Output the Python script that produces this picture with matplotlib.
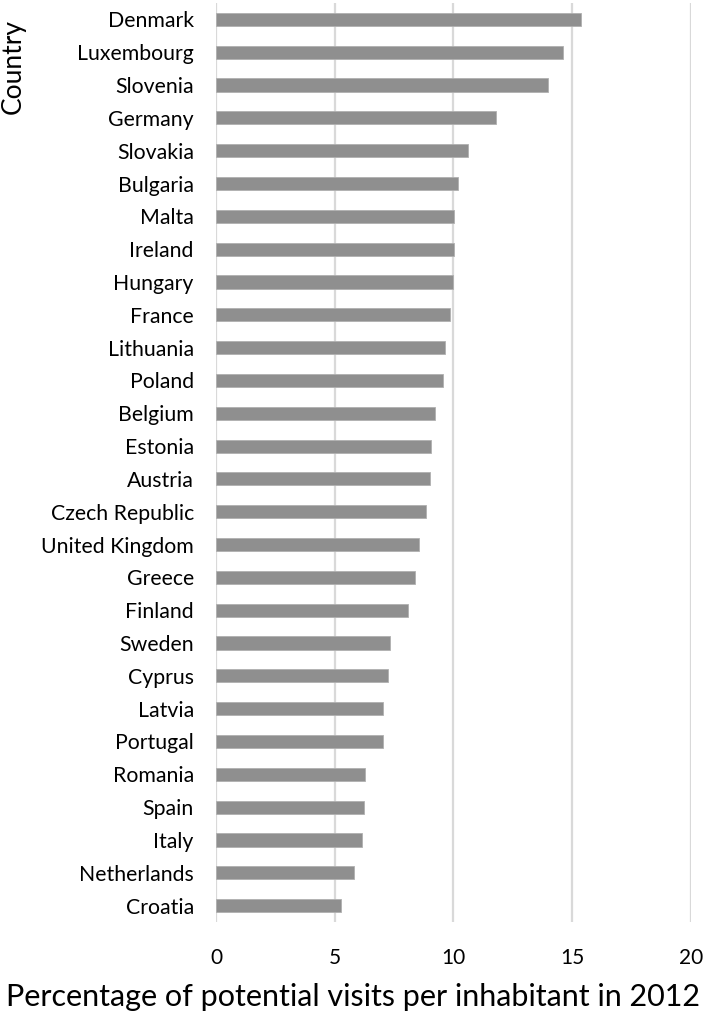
import matplotlib
matplotlib.use("Agg")
import matplotlib.pyplot as plt

countries = ["Denmark", "Luxembourg", "Slovenia", "Germany", "Slovakia", "Bulgaria",
             "Malta", "Ireland", "Hungary", "France", "Lithuania", "Poland", "Belgium",
             "Estonia", "Austria", "Czech Republic", "United Kingdom", "Greece", "Finland",
             "Sweden", "Cyprus", "Latvia", "Portugal", "Romania", "Spain", "Italy",
             "Netherlands", "Croatia"]
values = [15.39, 14.61, 13.98, 11.81, 10.6, 10.18,
          10.01, 10.01, 9.97, 9.86, 9.66, 9.55, 9.24,
          9.07, 9.03, 8.86, 8.55, 8.4, 8.07,
          7.34, 7.24, 7.03, 7.03, 6.29, 6.23, 6.17,
          5.81, 5.25]
xticks = [0, 5, 10, 15, 20]

plt.rcParams['font.family'] = ['Lato', 'DejaVu Sans']

fig = plt.figure(figsize=(7.06, 10.21), dpi=100)
ax = fig.add_axes([216/706, 1 - 922/1021, (690.7-216)/706, (922-3)/1021])

n = len(countries)
ypos = list(range(n))
ax.barh(ypos, values, height=0.4, color='#8f8f8f', edgecolor='#b0b0b0', linewidth=0.6, zorder=3)
ax.set_ylim(n - 0.5, -0.5)
ax.set_xlim(0, 20)
ax.set_yticks(ypos)
ax.set_yticklabels(countries, fontsize=15.3)
ax.set_xticks(xticks)
ax.set_xticklabels([str(t) for t in xticks], fontsize=15)
ax.tick_params(axis='y', length=0, pad=16)
ax.tick_params(axis='x', length=0, pad=19)
ax.grid(axis='x', color='#d9d9d9', linewidth=1.6, zorder=0)
ax.set_axisbelow(True)
for s in ax.spines.values():
    s.set_visible(False)

fig.text(353/706, 1 - 997/1021, "Percentage of potential visits per inhabitant in 2012",
         fontsize=22, ha='center', va='center')
fig.text(13/706, 1 - 66/1021, "Country", rotation=90, fontsize=19, ha='center', va='center')

fig.savefig("out.png", dpi=100)
